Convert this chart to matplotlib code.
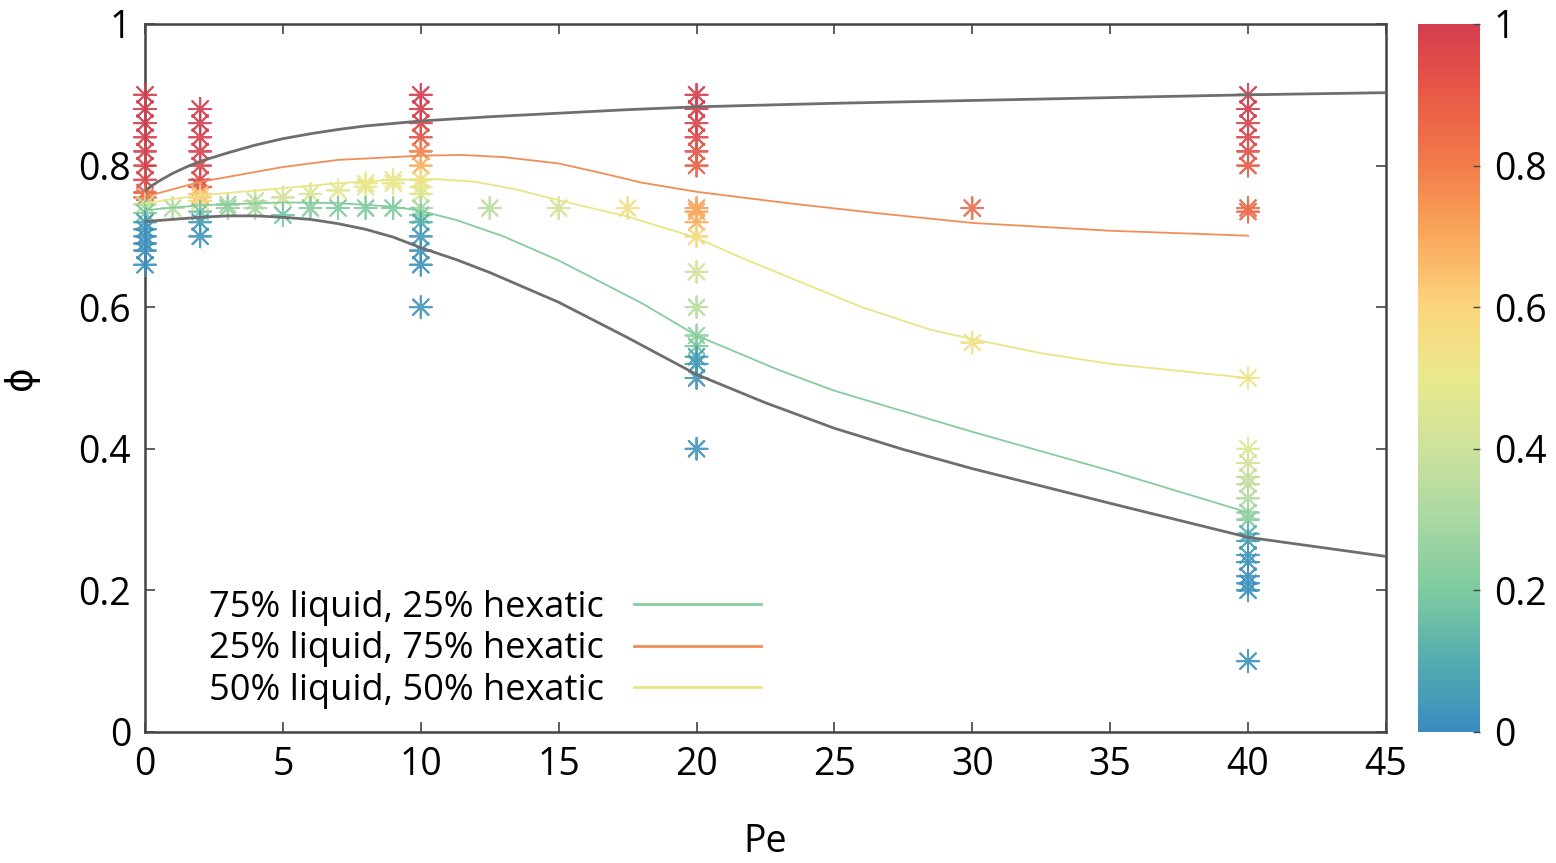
import numpy as np
import matplotlib
matplotlib.use("Agg")
import matplotlib.pyplot as plt
from matplotlib.colors import LinearSegmentedColormap
from matplotlib.lines import Line2D

plt.rcParams['font.family'] = ['Open Sans', 'DejaVu Sans']

# ---------------- data ----------------
# scatter points: Pe, phi, colour value
pe0_phi = [0.90, 0.88, 0.86, 0.84, 0.82, 0.80, 0.78, 0.762, 0.755, 0.745, 0.733, 0.72, 0.71, 0.70, 0.69, 0.68, 0.66]
pe0_c   = [1.00, 1.00, 1.00, 0.99, 0.98, 0.97, 0.96, 0.90, 0.82, 0.35, 0.20, 0.05, 0.03, 0.02, 0.02, 0.02, 0.02]

pe2_phi = [0.88, 0.86, 0.84, 0.82, 0.80, 0.78, 0.77, 0.76, 0.755, 0.75, 0.735, 0.72, 0.70]
pe2_c   = [1.00, 1.00, 0.99, 0.98, 0.97, 0.96, 0.93, 0.65, 0.62, 0.60, 0.18, 0.05, 0.03]

mid_pe  = [1, 3, 3, 4, 4, 5, 5, 6, 6, 7, 7, 8, 8, 8, 9, 9, 9]
mid_phi = [0.74, 0.745, 0.74, 0.75, 0.74, 0.755, 0.73, 0.76, 0.74, 0.765, 0.74, 0.77, 0.775, 0.74, 0.775, 0.78, 0.74]
mid_c   = [0.33, 0.30, 0.25, 0.38, 0.30, 0.42, 0.18, 0.45, 0.22, 0.47, 0.20, 0.47, 0.50, 0.20, 0.48, 0.50, 0.20]

pe10_phi = [0.90, 0.88, 0.86, 0.84, 0.82, 0.80, 0.78, 0.77, 0.76, 0.74, 0.73, 0.72, 0.70, 0.68, 0.66, 0.60]
pe10_c   = [1.00, 1.00, 0.98, 0.92, 0.80, 0.68, 0.58, 0.52, 0.46, 0.30, 0.22, 0.10, 0.04, 0.03, 0.02, 0.03]

mid2_pe  = [12.5, 15, 17.5]
mid2_phi = [0.74, 0.74, 0.74]
mid2_c   = [0.35, 0.42, 0.55]

pe20_phi = [0.90, 0.88, 0.86, 0.84, 0.82, 0.80, 0.74, 0.735, 0.72, 0.70, 0.65, 0.60, 0.56, 0.545, 0.53, 0.52, 0.50, 0.40]
pe20_c   = [1.00, 1.00, 0.98, 0.96, 0.92, 0.88, 0.72, 0.70, 0.68, 0.60, 0.42, 0.35, 0.25, 0.20, 0.08, 0.05, 0.03, 0.03]

pe30_phi = [0.74, 0.55]
pe30_c   = [0.85, 0.55]

pe40_phi = [0.90, 0.88, 0.86, 0.84, 0.82, 0.80, 0.74, 0.735, 0.50,
            0.40, 0.38, 0.36, 0.35, 0.33, 0.31, 0.30, 0.28, 0.27, 0.25, 0.24, 0.22, 0.21, 0.20, 0.10]
pe40_c   = [1.00, 1.00, 0.98, 0.97, 0.94, 0.90, 0.85, 0.85, 0.52,
            0.45, 0.42, 0.38, 0.36, 0.33, 0.28, 0.22, 0.12, 0.06, 0.04, 0.03, 0.02, 0.02, 0.02, 0.02]

# boundary curves (grey)
upper_pe  = [0, 0.5, 1, 1.5, 2, 3, 4, 5, 6, 7, 8, 10, 12.5, 15, 17.5, 20, 25, 30, 35, 40, 45]
upper_phi = [0.765, 0.778, 0.789, 0.798, 0.806, 0.818, 0.829, 0.838, 0.845, 0.851, 0.856, 0.863,
             0.869, 0.874, 0.879, 0.883, 0.888, 0.892, 0.896, 0.900, 0.903]
lower_pe  = [0, 2, 3, 4, 5, 6, 7, 8, 9, 10, 11.3, 12.5, 15, 17.5, 20, 22.5, 25, 27.5, 30, 35, 40, 45]
lower_phi = [0.721, 0.727, 0.729, 0.729, 0.727, 0.724, 0.718, 0.710, 0.699, 0.684, 0.667, 0.649,
             0.607, 0.557, 0.505, 0.465, 0.429, 0.399, 0.372, 0.323, 0.275, 0.248]

# fraction curves
green_pe  = [0, 2, 5, 7, 9, 10, 11.3, 13, 15, 18, 20, 23, 25, 30, 35, 40]
green_phi = [0.737, 0.744, 0.748, 0.747, 0.742, 0.736, 0.723, 0.700, 0.666, 0.606, 0.560, 0.511,
             0.482, 0.424, 0.369, 0.310]
orange_pe  = [0, 2, 5, 7, 10, 11.5, 13, 15, 16.5, 18, 20, 23.3, 26.5, 30, 35, 40]
orange_phi = [0.756, 0.777, 0.798, 0.808, 0.814, 0.815, 0.812, 0.803, 0.790, 0.776, 0.763, 0.747, 0.733,
              0.719, 0.708, 0.701]
yellow_pe  = [0, 2, 5, 7, 9, 10.5, 12, 13.5, 15, 17.5, 20, 21.5, 23.3, 26, 28.5, 30, 32.5, 35, 40]
yellow_phi = [0.747, 0.758, 0.768, 0.775, 0.780, 0.781, 0.777, 0.766, 0.751, 0.728, 0.698, 0.672, 0.643,
              0.600, 0.568, 0.555, 0.535, 0.520, 0.500]

legend_labels = ["75% liquid, 25% hexatic", "25% liquid, 75% hexatic", "50% liquid, 50% hexatic"]
xticks = [0, 5, 10, 15, 20, 25, 30, 35, 40, 45]
yticks = [0, 0.2, 0.4, 0.6, 0.8, 1]

# ---------------- style ----------------
cmap_anchors = ['#3a8cc0', '#55adb0', '#7fcba0', '#a9d8a3', '#cde29c', '#e9e98c',
                '#fbd57e', '#f9a95c', '#f27c4a', '#e85a46', '#d53e4f']
cmap = LinearSegmentedColormap.from_list('spec', cmap_anchors, N=256)
green_col = '#86cc9c'
orange_col = '#f28d55'
yellow_col = '#ebe584'
grey_col = '#6e6e6e'
spine_col = '#444444'

fig = plt.figure(figsize=(15.56, 8.63), dpi=100)
ax = fig.add_axes([0.0932, 0.1518, 0.7975, 0.8204])
cax = fig.add_axes([0.9113, 0.1518, 0.0398, 0.8204])

# scatter
xs, ys, cs = [], [], []
for pe, ph, cc in [
    ([0] * len(pe0_phi), pe0_phi, pe0_c),
    ([2] * len(pe2_phi), pe2_phi, pe2_c),
    (mid_pe, mid_phi, mid_c),
    ([10] * len(pe10_phi), pe10_phi, pe10_c),
    (mid2_pe, mid2_phi, mid2_c),
    ([20] * len(pe20_phi), pe20_phi, pe20_c),
    ([30] * len(pe30_phi), pe30_phi, pe30_c),
    ([40] * len(pe40_phi), pe40_phi, pe40_c),
]:
    xs += list(pe); ys += list(ph); cs += list(cc)

sc = ax.scatter(xs, ys, c=cs, cmap=cmap, vmin=0, vmax=1, marker=(8, 2, 0),
                s=250, linewidths=1.4, alpha=0.9, zorder=3, clip_on=False)

ax.plot(upper_pe, upper_phi, color=grey_col, lw=2.0, zorder=4)
ax.plot(lower_pe, lower_phi, color=grey_col, lw=2.0, zorder=4)
ax.plot(green_pe, green_phi, color=green_col, lw=1.3, zorder=4)
ax.plot(orange_pe, orange_phi, color=orange_col, lw=1.3, zorder=4)
ax.plot(yellow_pe, yellow_phi, color=yellow_col, lw=1.3, zorder=4)

ax.set_xlim(0, 45)
ax.set_ylim(0, 1)
ax.set_xticks(xticks)
ax.set_xticklabels([str(t) for t in xticks])
ax.set_yticks(yticks)
ax.set_yticklabels(['0', '0.2', '0.4', '0.6', '0.8', '1'])
ax.tick_params(direction='in', length=7, width=1.2, colors=spine_col, labelcolor='black',
               labelsize=27, top=True, right=True, pad=10)
for s in ax.spines.values():
    s.set_color(spine_col)
    s.set_linewidth(1.8)

ax.set_xlabel('Pe', fontsize=27, labelpad=28)
ax.set_ylabel('ϕ', fontsize=27)
ax.yaxis.set_label_coords(-0.085, 0.5)

handles = [Line2D([], [], color=green_col, lw=2),
           Line2D([], [], color=orange_col, lw=2),
           Line2D([], [], color=yellow_col, lw=2)]
leg = ax.legend(handles, legend_labels, loc='lower left', bbox_to_anchor=(0.028, -0.008),
                frameon=False, markerfirst=False, fontsize=26, handlelength=3.5,
                handletextpad=0.85, labelspacing=0.15, borderaxespad=0.4)

cb = fig.colorbar(sc, cax=cax)
cb.solids.set_alpha(1)
cb.set_ticks([0, 0.2, 0.4, 0.6, 0.8, 1])
cb.set_ticklabels(['0', '0.2', '0.4', '0.6', '0.8', '1'])
cb.ax.tick_params(direction='in', length=5, width=1, colors=spine_col, labelcolor='black',
                  labelsize=27, pad=10)
cb.outline.set_visible(False)

fig.savefig('out.png', dpi=100)
